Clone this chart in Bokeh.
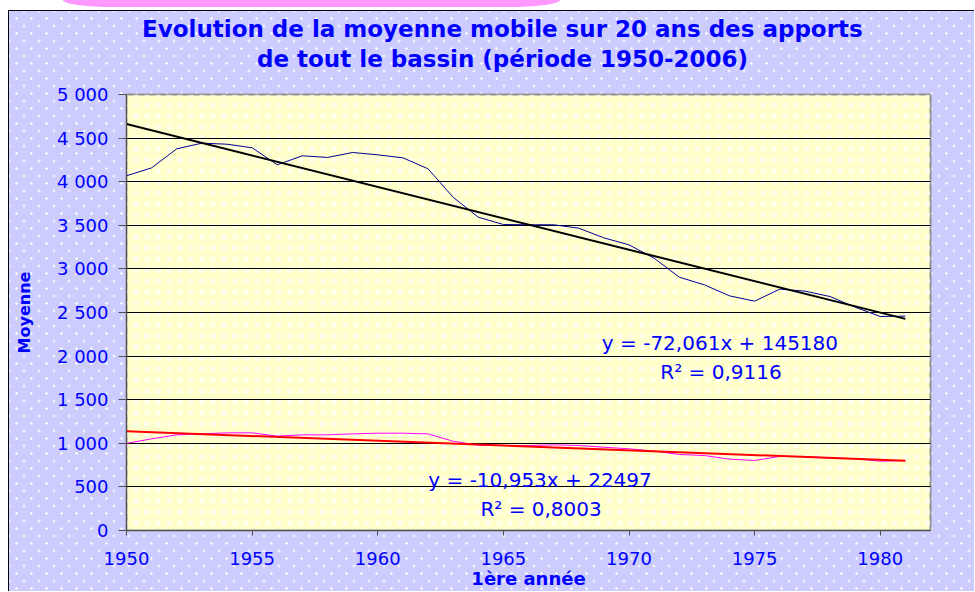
from bokeh.plotting import figure
from bokeh.layouts import column
from bokeh.models import Range1d, Label, BoxAnnotation, FixedTicker, Title, Div
from bokeh.embed import file_html
from bokeh.resources import INLINE

# ---- data ----
years = list(range(1950, 1982))
moyenne_total = [4068, 4159, 4377, 4442, 4430, 4389, 4194, 4297, 4278, 4335,
                 4308, 4274, 4148, 3822, 3593, 3509, 3506, 3506, 3467, 3356,
                 3276, 3123, 2905, 2817, 2691, 2630, 2768, 2745, 2683, 2561,
                 2454, 2458]
moyenne_rose = [1000, 1051, 1097, 1108, 1120, 1120, 1082, 1097, 1097, 1108,
                1116, 1116, 1108, 1024, 978, 975, 975, 982, 975, 955,
                937, 910, 872, 860, 818, 803, 849, 849, 833, 822,
                795, 803]
trend_slopes = [-72.061, -10.953]
trend_intercepts = [145180, 22497]
trend_x = [1950, 1981]
eq_texts = ["y = -72,061x + 145180", "R\u00b2 = 0,9116",
            "y = -10,953x + 22497", "R\u00b2 = 0,8003"]
x_ticks = [1950, 1955, 1960, 1965, 1970, 1975, 1980]
y_ticks = [0, 500, 1000, 1500, 2000, 2500, 3000, 3500, 4000, 4500, 5000]
y_tick_labels = ["0", "500", "1 000", "1 500", "2 000", "2 500", "3 000",
                 "3 500", "4 000", "4 500", "5 000"]
title_lines = ["Evolution de la moyenne mobile sur 20 ans des apports",
               "de tout le bassin (p\u00e9riode 1950-2006)"]
x_label = "1\u00e8re ann\u00e9e"
y_label = "Moyenne"

BLUE = "#0000FF"
FONT = "DejaVu Sans"

dot_layer = "radial-gradient(circle, #ffffff 0.9px, rgba(255,255,255,0) 1.5px)"
p = figure(width=966, height=581, x_range=Range1d(1950, 1982), y_range=Range1d(0, 5000),
           output_backend="svg", toolbar_location=None, title=None,
           min_border_left=117, min_border_right=45, min_border_top=83, min_border_bottom=62,
           border_fill_alpha=0, background_fill_color="#FFFFCC",
           outline_line_color="#909090", outline_line_width=2,
           margin=(3, 0, 0, 8),
           styles={"background-color": "#CCCCFF",
                   "background-image": dot_layer + ", " + dot_layer,
                   "background-size": "15px 15px, 15px 15px",
                   "background-position": "0px 0px, 7.5px 7.5px",
                   "border-left": "1px solid black",
                   "border-top": "1px solid black"})

# faint white dots over the plot area
dots = BoxAnnotation(fill_alpha=0, line_alpha=0, hatch_pattern="dot", hatch_color="white",
                     hatch_scale=11, hatch_weight=0.5, hatch_alpha=0.6, level="image")
p.add_layout(dots)

# series
p.line(years, moyenne_total, line_color="#000099", line_width=1)
p.line(years, moyenne_rose, line_color="#FF00FF", line_width=1)
trend_colors = ["black", "#FF0000"]
for s, b, c in zip(trend_slopes, trend_intercepts, trend_colors):
    p.line(trend_x, [s * x + b for x in trend_x], line_color=c, line_width=2)

# axes
p.xgrid.visible = False
p.ygrid.grid_line_color = "black"
p.ygrid.grid_line_width = 1
p.ygrid.ticker = FixedTicker(ticks=y_ticks)

p.yaxis.ticker = FixedTicker(ticks=y_ticks)
p.yaxis.major_label_overrides = {t: lab for t, lab in zip(y_ticks, y_tick_labels)}
p.xaxis.ticker = FixedTicker(ticks=x_ticks)
for ax in (p.xaxis, p.yaxis):
    ax.axis_line_color = "#505050"
    ax.major_tick_line_color = "#505050"
    ax.minor_tick_line_color = None
    ax.major_tick_in = 0
    ax.major_label_text_font = FONT
    ax.major_label_text_font_size = "18px"
    ax.major_label_text_color = BLUE
    ax.axis_label_text_font = FONT
    ax.axis_label_text_font_style = "bold"
    ax.axis_label_text_color = BLUE
p.yaxis.major_tick_out = 8
p.yaxis.major_label_standoff = 10
p.xaxis.major_tick_out = 5
p.xaxis.major_label_standoff = 16
p.yaxis.axis_label = y_label
p.yaxis.axis_label_text_font_size = "16px"
p.yaxis.axis_label_standoff = 20
p.xaxis.axis_label = x_label
p.xaxis.axis_label_text_font_size = "18px"
p.xaxis.axis_label_standoff = 0

# title lines (first added = closest to the plot)
title_style = dict(align="left", text_font=FONT, text_font_style="bold",
                   text_font_size="23px", text_color=BLUE)
p.add_layout(Title(text=title_lines[1], offset=130.5, standoff=45.5, **title_style), "above")
try:
    t1 = Title(text=title_lines[0], offset=15.5, standoff=-43.5, **title_style)
except Exception:
    t1 = Title(text=title_lines[0], offset=15.5, standoff=0, **title_style)
p.add_layout(t1, "above")

# equations
eq_x = [1973.62, 1973.66, 1966.46, 1966.5]
eq_y = [2148, 1815, 581, 249]
for txt, xx, yy in zip(eq_texts, eq_x, eq_y):
    p.add_layout(Label(x=xx, y=yy, text=txt, text_align="center", text_baseline="middle",
                       text_font=FONT, text_font_size="20px", text_color=BLUE))

# pink tab at the top of the page (decoration of the original screenshot)
tab = Div(text="", width=497, height=7, margin=(0, 0, 0, 63),
          styles={"background-color": "#FF99FF",
                  "border-radius": "0 0 50px 50px / 0 0 7px 7px"})

layout = column(tab, p, spacing=0)
open("out.html", "w").write(file_html(layout, INLINE))
